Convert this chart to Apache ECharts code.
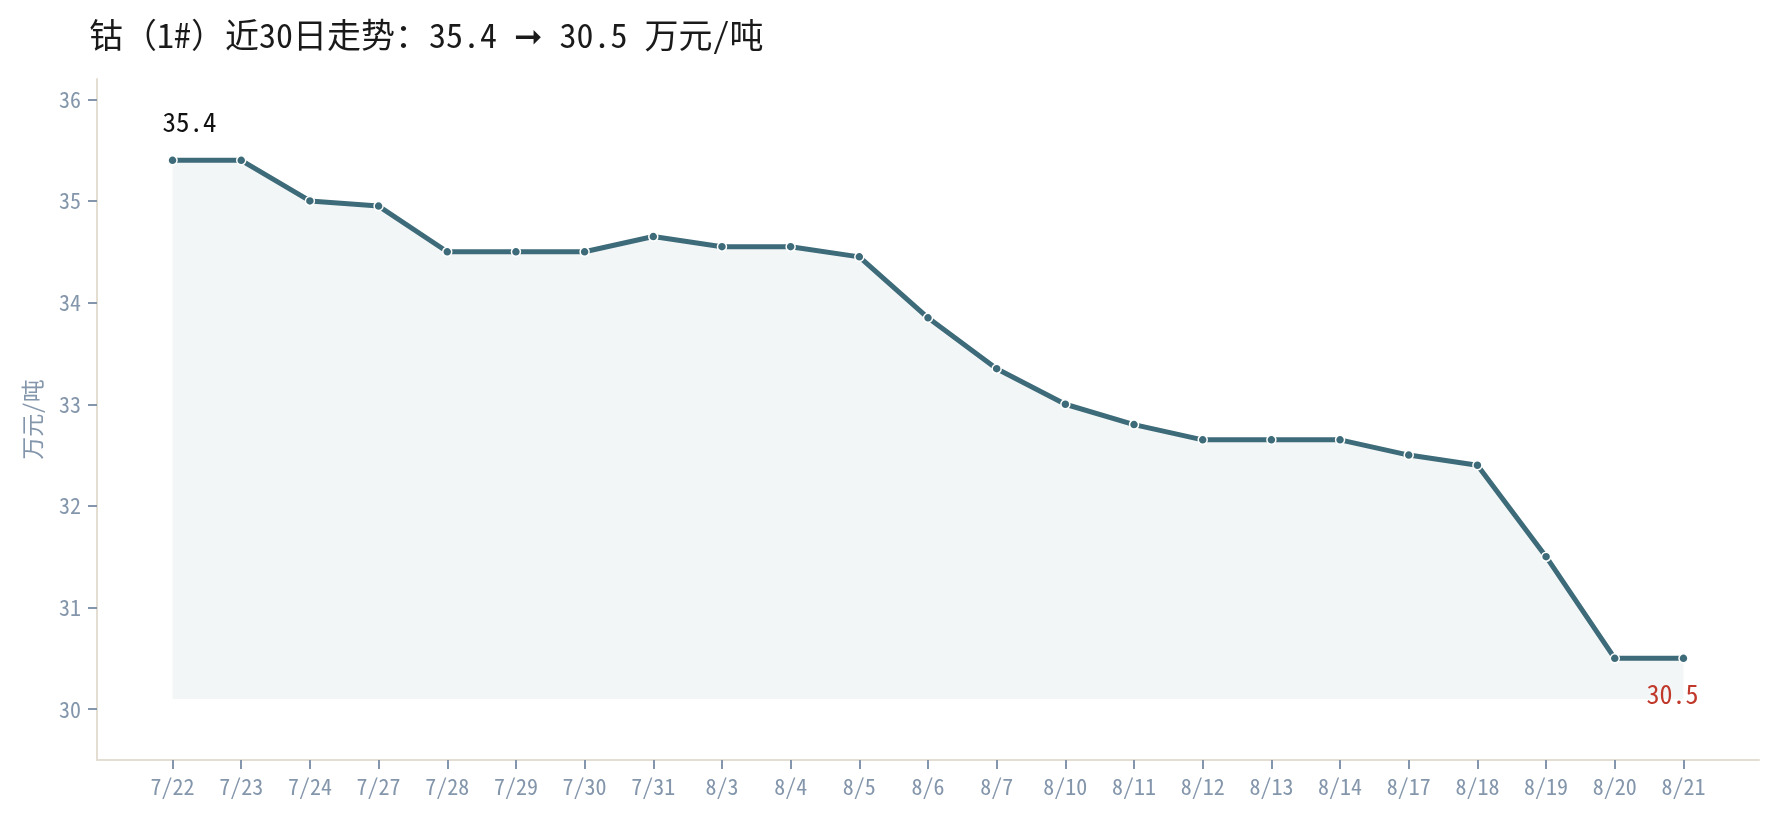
<!DOCTYPE html>
<html>
<head>
<meta charset="utf-8">
<script src="https://cdn.jsdelivr.net/npm/echarts@6/dist/echarts.min.js"></script>
<style>
  html, body { margin: 0; padding: 0; background: #fff; }
  #chart { width: 1779px; height: 819px; }
</style>
</head>
<body>
<div id="chart"></div>
<script>
// 日期
var dates = ['7/22', '7/23', '7/24', '7/27', '7/28', '7/29', '7/30', '7/31', '8/3', '8/4', '8/5',
  '8/6', '8/7', '8/10', '8/11', '8/12', '8/13', '8/14', '8/17', '8/18', '8/19', '8/20', '8/21'];
// 价格 万元/吨
var prices = [35.4, 35.4, 35.0, 34.95, 34.5, 34.5, 34.5, 34.65, 34.55, 34.55, 34.45,
  33.85, 33.35, 33.0, 32.8, 32.65, 32.65, 32.65, 32.5, 32.4, 31.5, 30.5, 30.5];
var yTicks = [30, 31, 32, 33, 34, 35, 36];
var titleText = '钴（1#）近30日走势：35.4 ➞ 30.5 万元/吨';

var FONT = '"Noto Sans Mono CJK SC", "Noto Sans CJK SC", "DejaVu Sans", sans-serif';
var LINE = '#3e6b79';
var MUTED = '#8496ab';

var xIdx = dates.map(function (d, i) { return i; });
var seriesData = prices.map(function (v, i) {
  var item = { value: [i, v] };
  if (i === 0) {
    item.label = { show: true, position: 'top', distance: 20, offset: [17, 0], color: '#111', fontSize: 27, fontFamily: FONT };
  }
  if (i === prices.length - 1) {
    item.label = { show: true, position: 'bottom', distance: 18, offset: [-11, 0], color: '#c0392b', fontSize: 26, fontFamily: FONT };
  }
  return item;
});

var chart = echarts.init(document.getElementById('chart'));
chart.setOption({
  animation: false,
  backgroundColor: '#fff',
  title: {
    text: titleText,
    left: 89,
    top: 16,
    padding: 0,
    textStyle: { fontFamily: FONT, fontSize: 34, fontWeight: 'normal', color: '#1a1a1a', lineHeight: 38 }
  },
  grid: { left: 97, right: 20, top: 79, bottom: 59, outerBoundsMode: 'none' },
  xAxis: {
    type: 'value',
    min: -1.1,
    max: dates.length - 1 + 1.1,
    splitLine: { show: false },
    axisLine: { show: true, onZero: false, lineStyle: { color: '#e3ddd2', width: 2 } },
    axisTick: { show: true, length: 9, customValues: xIdx, lineStyle: { color: MUTED, width: 2 } },
    axisLabel: {
      customValues: xIdx,
      margin: 16,
      color: MUTED,
      fontSize: 22,
      fontFamily: FONT,
      formatter: function (v) { return dates[Math.round(v)]; }
    }
  },
  yAxis: {
    type: 'value',
    min: 29.5,
    max: 36.2,
    name: '万元/吨',
    nameLocation: 'middle',
    nameRotate: 90,
    nameGap: 53,
    nameTextStyle: { color: MUTED, fontSize: 23, fontFamily: FONT },
    splitLine: { show: false },
    axisLine: { show: true, onZero: false, lineStyle: { color: '#e3ddd2', width: 2 } },
    axisTick: { show: true, length: 9, customValues: yTicks, lineStyle: { color: MUTED, width: 2 } },
    axisLabel: { customValues: yTicks, margin: 16, color: MUTED, fontSize: 22, fontFamily: FONT }
  },
  series: [{
    type: 'line',
    data: seriesData,
    symbol: 'circle',
    symbolSize: 9,
    lineStyle: { color: LINE, width: 5 },
    itemStyle: { color: LINE, borderColor: '#fff', borderWidth: 1.5 },
    areaStyle: { color: 'rgba(62,107,121,0.09)', origin: 30.1 },
    z: 3
  }]
});
</script>
</body>
</html>
